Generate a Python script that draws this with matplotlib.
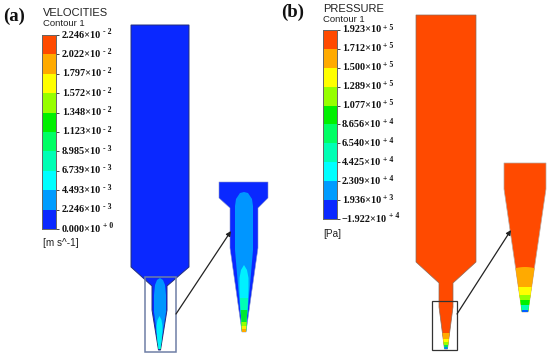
"""
CFD contour panels: velocity (a) and pressure (b) in a tapered nozzle.
Output: out.png
"""

import matplotlib
matplotlib.use('Agg')
import matplotlib.pyplot as plt
import numpy as np
from matplotlib.colors import BoundaryNorm, ListedColormap
from matplotlib.patches import Polygon, Rectangle

plt.rcParams['font.family'] = ['Liberation Sans', 'DejaVu Sans']

W, H = 550, 358

# ── colour bands, low to high ───────────────────────────────────────────────
BAND_COLORS = ['#0a28ff', '#009cff', '#00ffff', '#00ffb4', '#00ff64',
               '#00f000', '#96ff00', '#ffff00', '#ffaa00', '#ff4a00']
C_WALL = '#0a28ff'
C_JET = '#0096ff'
C_CYAN = '#00f0ff'
C_RED = '#ff4a00'

# ── colourbar labels, top to bottom ─────────────────────────────────────────
VEL_MANT = ['2.246', '2.022', '1.797', '1.572', '1.348', '1.123',
            '8.985', '6.739', '4.493', '2.246', '0.000']
VEL_EXP = ['-2', '-2', '-2', '-2', '-2', '-2', '-3', '-3', '-3', '-3', '+0']
PRES_MANT = ['1.923', '1.712', '1.500', '1.289', '1.077', '8.656',
             '6.540', '4.425', '2.309', '1.936', '\u22121.922']
PRES_EXP = ['+5', '+5', '+5', '+5', '+5', '+4', '+4', '+4', '+4', '+3', '+4']

# ── nozzle outlines (image pixels) ──────────────────────────────────────────
VEL_BODY_X = [131, 189, 189, 167, 167, 160.5, 158.5, 152, 152, 131]
VEL_BODY_Y = [25, 25, 267, 286, 310, 350, 350, 310, 286, 267]
VEL_JET_X = [160, 163, 165, 166, 166, 160, 159, 154, 154, 155, 157]
VEL_JET_Y = [278, 280, 285, 295, 312, 348, 348, 312, 295, 285, 280]
VEL_CORE_X = [159.5, 161.5, 162.5, 162.5, 160.5, 158.5, 156.5, 156.5, 157.5]
VEL_CORE_Y = [316, 320, 326, 332, 349, 349, 332, 326, 320]

VEL_IN_X = [219, 268, 268, 258, 258, 246, 242, 230, 230, 219]
VEL_IN_Y = [182, 182, 198, 208, 248, 332, 332, 248, 208, 198]
VEL_IN_JET_X = [244, 248, 252, 253, 253, 246, 242, 235, 235, 236, 240]
VEL_IN_JET_Y = [192, 193, 199, 206, 250, 332, 332, 250, 206, 199, 193]
VEL_IN_CORE_X = [244, 247, 248.5, 248.5, 246, 242, 239.5, 239.5, 241]
VEL_IN_CORE_Y = [265, 270, 278, 290, 332, 332, 290, 278, 270]

PRES_BODY_X = [416, 476, 476, 453, 453, 447.5, 444.5, 439, 439, 416]
PRES_BODY_Y = [15, 15, 262, 283, 307, 349, 349, 307, 283, 262]
PRES_IN_X = [504, 546, 546, 528, 522, 504]
PRES_IN_Y = [163, 163, 189, 312, 312, 189]

# bottom band limits along each tip: (top y, colour)
VEL_IN_TIP_Y = [298, 310, 322, 326, 329]
VEL_IN_TIP_C = ['#00ffb4', '#00e830', '#96ff00', '#ffee00', '#ffaa00']
VEL_TIP_Y = [335, 343]
VEL_TIP_C = ['#00ff96', '#00e000']
PRES_IN_TIP_Y = [267, 287, 295, 300, 305, 309.5]
PRES_IN_TIP_C = ['#ffaa00', '#ffff00', '#96ff00', '#00f000', '#00ffb4', '#0060ff']
PRES_TIP_Y = [333, 339, 342, 345, 347]
PRES_TIP_C = ['#ffaa00', '#ffff00', '#96ff00', '#00e060', '#0080ff']

fig = plt.figure(figsize=(W / 100, H / 100), dpi=100, facecolor='white')
ax = fig.add_axes([0, 0, 1, 1])
ax.set_xlim(0, W)
ax.set_ylim(H, 0)
ax.axis('off')


def shape(xs, ys, color, edge='none', lw=0.0, z=2, clip=None):
    p = Polygon(np.column_stack([xs, ys]), closed=True, facecolor=color,
                edgecolor=edge, linewidth=lw, zorder=z)
    ax.add_patch(p)
    if clip is not None:
        p.set_clip_path(clip)
    return p


def tip_bands(outline, tops, colors, x0, x1, y_end, sag=0.0):
    # stacked colour bands clipped to the nozzle outline
    for i, (top, c) in enumerate(zip(tops, colors)):
        xs = np.linspace(x0, x1, 15)
        mid = (x0 + x1) / 2
        ys = top + sag * ((xs - mid) / ((x1 - x0) / 2)) ** 2 * (1 if i == 0 else 0)
        shape(list(xs) + [x1, x0], list(ys) + [y_end, y_end], c,
              z=3 + i * 0.1, clip=outline)


def colorbar(px, mant, exps, unit, title, lab_x, unit_y, name_y, name_x):
    x0, x1, y0, y1 = px
    cax = fig.add_axes([x0 / W, 1 - y1 / H, (x1 - x0) / W, (y1 - y0) / H])
    edges = np.arange(len(mant))
    cmap = ListedColormap(BAND_COLORS)
    cax.pcolormesh([0, 1], edges, np.arange(10).reshape(-1, 1), cmap=cmap,
                   norm=BoundaryNorm(np.arange(-0.5, 10.5), 10))
    cax.set_xticks([])
    cax.yaxis.tick_right()
    cax.set_yticks(edges)
    cax.set_yticklabels([])
    cax.tick_params(axis='y', length=2.5, width=0.7, color='#444444', pad=1)
    for s in cax.spines.values():
        s.set_linewidth(0.7)
        s.set_color('#666666')
    n = len(mant)
    rend = fig.canvas.get_renderer()
    for i, (m, e) in enumerate(zip(mant, exps)):
        y = y0 + (y1 - y0) * i / (n - 1)
        t = ax.text(lab_x, y, m + '\u00d710', family='Liberation Serif',
                    fontweight='bold', fontsize=7.4, ha='left', va='center',
                    color='#111111')
        width = t.get_window_extent(rend).width
        ax.text(lab_x + width + 1.5, y - 2.5, e[0] + ' ' + e[1],
                family='Liberation Serif', fontweight='bold', fontsize=5.6,
                ha='left', va='center', color='#111111')
    ax.text(name_x, name_y, title, fontsize=8.0, ha='left', va='center',
            color='#222222')
    ax.text(name_x, name_y + 11, 'Contour 1', fontsize=6.8, ha='left',
            va='center', color='#222222')
    ax.text(name_x, unit_y, unit, fontsize=7.2, ha='left', va='center',
            color='#222222')


# ── panel (a) velocity ──────────────────────────────────────────────────────
ax.text(3, 16, '(a)', family='Liberation Serif', fontweight='bold',
        fontsize=13.5, ha='left', va='center', color='#111111')
colorbar((42, 56, 35, 229), VEL_MANT, VEL_EXP, '[m s^-1]', 'VELOCITIES',
         62, 243, 13, 43)

body = shape(VEL_BODY_X, VEL_BODY_Y, C_WALL, edge='#23307a', lw=0.7)
shape(VEL_JET_X, VEL_JET_Y, C_JET, z=3)
core = shape(VEL_CORE_X, VEL_CORE_Y, C_CYAN, z=4)
tip_bands(core, VEL_TIP_Y, VEL_TIP_C, 155, 165, 351)
ax.add_patch(Rectangle((144.5, 277), 31.5, 75, fill=False, edgecolor='#6f7fa6',
                       linewidth=1.1, zorder=5))

inset = shape(VEL_IN_X, VEL_IN_Y, C_WALL, edge='#8c96c8', lw=0.4)
shape(VEL_IN_JET_X, VEL_IN_JET_Y, C_JET, z=3)
in_core = shape(VEL_IN_CORE_X, VEL_IN_CORE_Y, C_CYAN, z=4)
for i, (top, c) in enumerate(zip(VEL_IN_TIP_Y, VEL_IN_TIP_C)):
    r = Rectangle((236, top), 16, 34, facecolor=c, edgecolor='none', zorder=5 + i * 0.1)
    ax.add_patch(r)
    r.set_clip_path(in_core)

ax.annotate('', xy=(231, 231), xytext=(176, 314),
            arrowprops=dict(arrowstyle='-|>', color='#222222', lw=0.9,
                            mutation_scale=7, shrinkA=0, shrinkB=0), zorder=6)

# ── panel (b) pressure ──────────────────────────────────────────────────────
ax.text(281, 12, '(b)', family='Liberation Serif', fontweight='bold',
        fontsize=13.5, ha='left', va='center', color='#111111')
colorbar((323, 337, 30, 219), PRES_MANT, PRES_EXP, '[Pa]', 'PRESSURE',
         342, 234, 9, 323)

p_body = shape(PRES_BODY_X, PRES_BODY_Y, C_RED, edge='#8a6a5a', lw=0.5)
tip_bands(p_body, PRES_TIP_Y, PRES_TIP_C, 436, 456, 351)
ax.add_patch(Rectangle((432, 301), 25, 49, fill=False, edgecolor='#333333',
                       linewidth=0.9, zorder=5))

p_in = shape(PRES_IN_X, PRES_IN_Y, C_RED, edge='#b5a8a0', lw=0.5)
tip_bands(p_in, PRES_IN_TIP_Y, PRES_IN_TIP_C, 510, 540, 314, sag=3.0)

ax.annotate('', xy=(511, 230), xytext=(457, 314),
            arrowprops=dict(arrowstyle='-|>', color='#222222', lw=0.9,
                            mutation_scale=7, shrinkA=0, shrinkB=0), zorder=6)

fig.savefig('out.png', dpi=100, facecolor='white')
